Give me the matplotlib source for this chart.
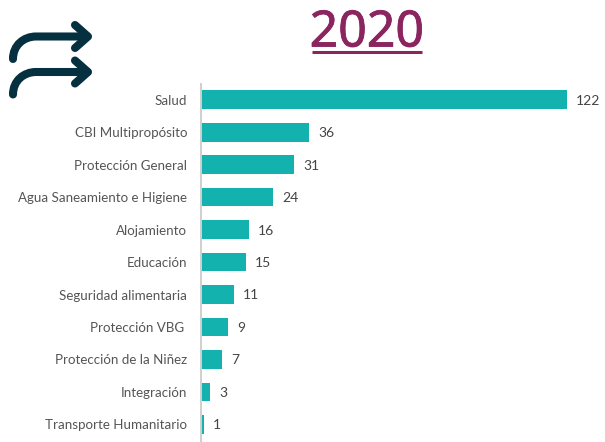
import matplotlib
matplotlib.use("Agg")
import matplotlib.pyplot as plt
import matplotlib.patheffects as pe
from matplotlib.path import Path
from matplotlib.patches import PathPatch

plt.rcParams['font.family'] = ['Lato', 'DejaVu Sans']

categories = ["Salud", "CBI Multipropósito", "Protección General",
              "Agua Saneamiento e Higiene", "Alojamiento", "Educación",
              "Seguridad alimentaria", "Protección VBG ", "Protección de la Niñez",
              "Integración", "Transporte Humanitario"]
values = [122, 36, 31, 24, 16, 15, 11, 9, 7, 3, 1]

W, H = 605, 442
bar_color = "#13B2AE"
title_color = "#8B2560"
arrow_color = "#04303F"
text_color = "#555555"

fig = plt.figure(figsize=(W / 100, H / 100), dpi=100)

# overlay in pixel coords for the title and arrow icon
bg = fig.add_axes([0, 0, 1, 1])
bg.set_xlim(0, W)
bg.set_ylim(H, 0)
bg.axis("off")

for dy in (0, 35.5):
    verts = [(13, 59 + dy), (13, 45 + dy), (24, 36.5 + dy), (36, 36.5 + dy), (86, 36.5 + dy)]
    codes = [Path.MOVETO, Path.CURVE4, Path.CURVE4, Path.CURVE4, Path.LINETO]
    bg.add_patch(PathPatch(Path(verts, codes), fill=False, ec=arrow_color, lw=5.8, capstyle="round"))
    head = [(75, 25 + dy), (88, 36.5 + dy), (75, 48 + dy)]
    bg.add_patch(PathPatch(Path(head), fill=False, ec=arrow_color, lw=5.8,
                           capstyle="round", joinstyle="round"))

# the font has no heavier weight here, so thicken it with a thin outline
bg.text(367, 46.5, "2020", color=title_color, fontsize=36, ha="center", va="baseline",
        family=["Noto Sans", "DejaVu Sans"],
        path_effects=[pe.withStroke(linewidth=0.6, foreground=title_color)])
bg.plot([312, 422], [51.5, 51.5], color=title_color, lw=2.2, solid_capstyle="butt")

# bar chart, 3 px per unit
ax = fig.add_axes([200.5 / W, 0, 400 / W, (H - 84) / H])
ax.patch.set_alpha(0)
y = list(range(len(categories)))
ax.barh(y, values, height=0.58, color=bar_color, left=0.2)
ax.set_xlim(0, 400 / 3)
ax.set_ylim(10.54, -0.48)
ax.set_yticks(y)
ax.set_yticklabels(categories, fontsize=9.6, color=text_color)
ax.tick_params(axis="y", length=0, pad=9.5)
ax.set_xticks([])
for s in ("top", "right", "bottom"):
    ax.spines[s].set_visible(False)
ax.spines["left"].set_color("#CFCFCF")
ax.spines["left"].set_linewidth(1.4)

for i, v in zip(y, values):
    ax.text(v + 3.2, i + 0.03, str(v), va="center", ha="left", fontsize=10, color="#444444")

fig.savefig("out.png", dpi=100)
